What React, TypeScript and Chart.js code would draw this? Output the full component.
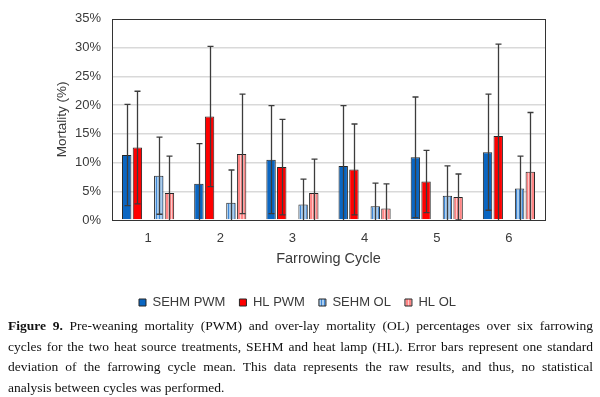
import React, { useEffect, useRef } from "react";
import { Chart, registerables } from "chart.js";

Chart.register(...registerables);

const cycles = ["1", "2", "3", "4", "5", "6"];
const yTicks = [0, 5, 10, 15, 20, 25, 30, 35];

const sehmPwm = [11.3, 6.3, 10.5, 9.4, 10.9, 11.8];
const sehmPwmSd = [8.8, 7.0, 9.4, 10.5, 10.5, 10.1];
const hlPwm = [12.6, 18.0, 9.2, 8.8, 6.7, 14.6];
const hlPwmSd = [9.8, 12.2, 8.3, 7.9, 5.4, 16.0];
const sehmOl = [7.7, 3.0, 2.7, 2.4, 4.2, 5.5];
const sehmOlSd = [6.7, 5.7, 4.4, 4.0, 5.2, 5.6];
const hlOl = [4.7, 11.5, 4.7, 2.0, 4.0, 8.4];
const hlOlSd = [6.4, 10.4, 5.9, 4.3, 4.0, 10.3];

const captionLines = [
  "Pre-weaning mortality (PWM) and over-lay mortality (OL) percentages over six farrowing",
  "cycles for the two heat source treatments, SEHM and heat lamp (HL). Error bars represent one standard",
  "deviation of the farrowing cycle mean. This data represents the raw results, and thus, no statistical",
  "analysis between cycles was performed.",
];

const TEXT = "#3a3a3a";
const FONT = "'Liberation Sans', Arial, sans-serif";

function stripe(base: string, line: string) {
  const c = document.createElement("canvas");
  c.width = 3;
  c.height = 3;
  const g = c.getContext("2d")!;
  g.fillStyle = base;
  g.fillRect(0, 0, 3, 3);
  g.fillStyle = line;
  g.fillRect(0, 0, 1, 3);
  return g.createPattern(c, "repeat");
}

const errorBars = {
  id: "errorBars",
  afterDatasetsDraw(chart: any) {
    const { ctx, chartArea, scales } = chart;
    const y = scales.y;
    ctx.save();
    ctx.beginPath();
    ctx.rect(chartArea.left, chartArea.top, chartArea.right - chartArea.left, chartArea.bottom - chartArea.top);
    ctx.clip();
    ctx.strokeStyle = "#3c3c3c";
    ctx.lineWidth = 1.3;
    chart.data.datasets.forEach((ds: any, i: number) => {
      if (!ds.errors) return;
      const meta = chart.getDatasetMeta(i);
      meta.data.forEach((bar: any, j: number) => {
        const v = ds.data[j];
        const sd = ds.errors[j];
        const hi = v + sd;
        const lo = v - sd;
        const yHi = y.getPixelForValue(hi);
        const yLo = y.getPixelForValue(Math.max(lo, 0));
        const x = Math.round(bar.x) + 0.5;
        ctx.beginPath();
        ctx.moveTo(x, yHi);
        ctx.lineTo(x, yLo);
        ctx.moveTo(x - 3, yHi);
        ctx.lineTo(x + 3, yHi);
        if (lo >= 0) {
          ctx.moveTo(x - 3, yLo);
          ctx.lineTo(x + 3, yLo);
        }
        ctx.stroke();
      });
    });
    ctx.restore();
    ctx.save();
    ctx.strokeStyle = "#333";
    ctx.lineWidth = 1;
    ctx.strokeRect(
      Math.round(chartArea.left) + 0.5,
      Math.round(chartArea.top) + 0.5,
      Math.round(chartArea.right - chartArea.left),
      Math.round(chartArea.bottom - chartArea.top)
    );
    ctx.restore();
  },
};

export default function App() {
  const ref = useRef<HTMLCanvasElement>(null);

  useEffect(() => {
    const canvas = ref.current!;
    const blueStripe = stripe("#a9cdef", "#3f86d4");
    const redStripe = stripe("#ff8585", "#ffc8c8");
    const chart = new Chart(canvas, {
      type: "bar",
      data: {
        labels: cycles,
        datasets: [
          { label: "SEHM PWM", data: sehmPwm, errors: sehmPwmSd, backgroundColor: "#0a66c2", borderColor: "#262626", borderWidth: 1 } as any,
          { label: "HL PWM", data: hlPwm, errors: hlPwmSd, backgroundColor: "#ff0000", borderColor: "#262626", borderWidth: 1 } as any,
          { label: "", data: cycles.map(() => null), backgroundColor: "transparent", borderWidth: 0 } as any,
          { label: "SEHM OL", data: sehmOl, errors: sehmOlSd, backgroundColor: blueStripe, borderColor: "#262626", borderWidth: 1 } as any,
          { label: "HL OL", data: hlOl, errors: hlOlSd, backgroundColor: redStripe, borderColor: "#262626", borderWidth: 1 } as any,
        ],
      },
      options: {
        animation: false,
        responsive: false,
        categoryPercentage: 0.74,
        barPercentage: 0.88,
        layout: { padding: { left: 50, right: 55, top: 14, bottom: 0 } },
        plugins: {
          tooltip: { enabled: false },
          legend: {
            position: "bottom",
            labels: {
              filter: (item: any) => item.text !== "",
              boxWidth: 7,
              boxHeight: 7,
              padding: 14,
              color: TEXT,
              font: { family: FONT, size: 13 },
            },
          },
        },
        scales: {
          x: {
            grid: { display: false, drawTicks: false },
            border: { display: false },
            ticks: { color: TEXT, font: { family: FONT, size: 13 }, padding: 11 },
            title: {
              display: true,
              text: "Farrowing Cycle",
              color: TEXT,
              font: { family: FONT, size: 14.5 },
              padding: { top: 4, bottom: 14 },
            },
            afterFit: (s: any) => {
              s.height = 62;
            },
          },
          y: {
            min: 0,
            max: 35,
            afterBuildTicks: (s: any) => {
              s.ticks = yTicks.map((v) => ({ value: v }));
            },
            grid: {
              drawTicks: false,
              color: (c: any) => (c.tick && (c.tick.value === 0 || c.tick.value === 35) ? "rgba(0,0,0,0)" : "#d9d9d9"),
              lineWidth: 1.5,
            },
            border: { display: false },
            ticks: {
              color: TEXT,
              font: { family: FONT, size: 13 },
              padding: 11,
              callback: (v: any) => v + "%",
            },
            title: {
              display: true,
              text: "Mortality (%)",
              color: TEXT,
              font: { family: FONT, size: 13.5 },
              padding: { top: 4, bottom: 0 },
            },
            afterFit: (s: any) => {
              s.width = 62;
            },
          },
        },
      },
      plugins: [errorBars],
    } as any);
    return () => chart.destroy();
  }, []);

  return (
    <div style={{ position: "absolute", left: 0, top: 0, width: 600, height: 397, background: "#fff", overflow: "hidden" }}>
      <canvas ref={ref} width={600} height={319} style={{ position: "absolute", left: 0, top: 0, width: 600, height: 319 }} />
      <div
        style={{
          position: "absolute",
          left: 8,
          top: 316,
          width: 585,
          fontFamily: "'Liberation Serif', 'DejaVu Serif', serif",
          fontSize: 13.5,
          lineHeight: "20.7px",
          color: "#111",
        }}
      >
        {captionLines.map((line, i) => (
          <div
            key={i}
            style={{
              whiteSpace: "nowrap",
              textAlign: i === captionLines.length - 1 ? "left" : "justify",
              textAlignLast: i === captionLines.length - 1 ? "left" : "justify",
            }}
          >
            {i === 0 && <b>Figure 9. </b>}
            {line}
          </div>
        ))}
      </div>
    </div>
  );
}
